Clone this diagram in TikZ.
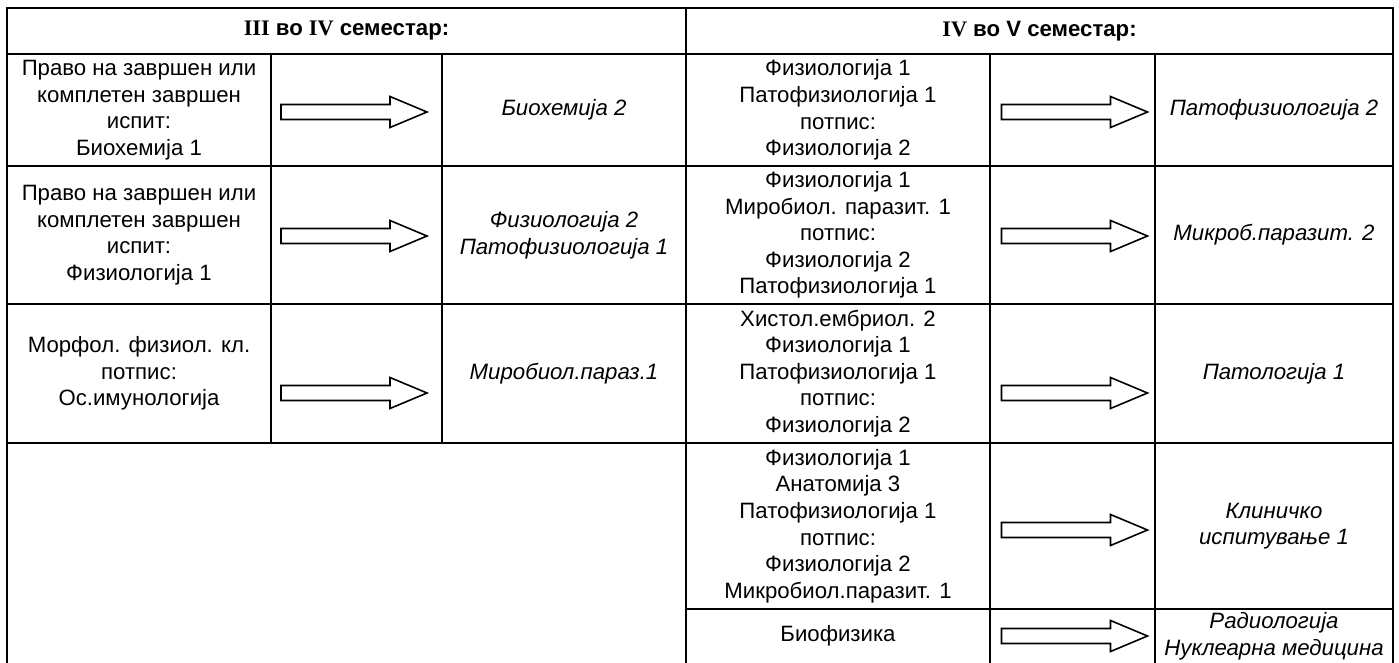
\documentclass[tikz,border=0pt]{standalone}
\usepackage{fontspec}
\setmainfont{Liberation Sans}
\newfontfamily\romfont{Liberation Serif}
\usepackage{tikz}

\begin{document}
\begin{tikzpicture}[x=1pt,y=-1pt]
	\tikzstyle{every node}+=[inner sep=0pt, align=center, font=\fontsize{22.2}{26.6}\selectfont]
	\tikzstyle{res}=[font=\fontsize{22.2}{26.6}\selectfont\itshape]
	\tikzstyle{rule}=[line width=2.4pt]
	\tikzset{fatarrow/.pic={
		\draw [line width=1.6pt, line join=miter] (-73,-7.5) -- (36,-7.5) -- (36,-15.5) -- (73,0) -- (36,15.5) -- (36,7.5) -- (-73,7.5) -- cycle;}}
	\useasboundingbox (0,0) rectangle (1399,663);
	% table
	\draw [rule] (7,663) -- (7,8) -- (1393,8) -- (1393,663);
	\draw [rule] (7,54) -- (1393,54);
	\draw [rule] (7,166) -- (1393,166);
	\draw [rule] (7,304) -- (1393,304);
	\draw [rule] (7,443) -- (1393,443);
	\draw [rule] (686,609) -- (1393,609);
	\draw [rule] (686,8) -- (686,663);
	\draw [rule] (271,54) -- (271,443);
	\draw [rule] (442,54) -- (442,443);
	\draw [rule] (990,54) -- (990,663);
	\draw [rule] (1155,54) -- (1155,663);
	% headers
	\node (hleft) at (346.5,31) {\bfseries{\romfont III} во {\romfont IV} семестар:};
	\node (hright) at (1039.5,31) {\bfseries{\romfont IV} во V семестар:};
	% III -> IV
	\node (l1) at (139,110) {Право на завршен или\\комплетен завршен\\испит:\\Биохемија 1};
	\pic (la1) at (354,112) {fatarrow};
	\node [res] (r1) at (564,110) {Биохемија 2};
	\node (l2) at (139,235) {Право на завршен или\\комплетен завршен\\испит:\\Физиологија 1};
	\pic (la2) at (354,236) {fatarrow};
	\node [res] (r2) at (564,235) {Физиологија 2\\Патофизиологија 1};
	\node (l3) at (139,373.5) {Морфол. физиол. кл.\\потпис:\\Ос.имунологија};
	\pic (la3) at (354,393) {fatarrow};
	\node [res] (r3) at (564,373.5) {Миробиол.параз.1};
	% IV -> V
	\node (m1) at (838,110) {Физиологија 1\\Патофизиологија 1\\потпис:\\Физиологија 2};
	\pic (ma1) at (1074.5,112) {fatarrow};
	\node [res] (s1) at (1274,110) {Патофизиологија 2};
	\node (m2) at (838,235) {Физиологија 1\\Миробиол. паразит. 1\\потпис:\\Физиологија 2\\Патофизиологија 1};
	\pic (ma2) at (1074.5,236) {fatarrow};
	\node [res] (s2) at (1274,235) {Микроб.паразит. 2};
	\node (m3) at (838,373.5) {Хистол.ембриол. 2\\Физиологија 1\\Патофизиологија 1\\потпис:\\Физиологија 2};
	\pic (ma3) at (1074.5,393) {fatarrow};
	\node [res] (s3) at (1274,373.5) {Патологија 1};
	\node (m4) at (838,526) {Физиологија 1\\Анатомија 3\\Патофизиологија 1\\потпис:\\Физиологија 2\\Микробиол.паразит. 1};
	\pic (ma4) at (1074.5,530) {fatarrow};
	\node [res] (s4) at (1274,526) {Клиничко\\испитување 1};
	\node (m5) at (838,636) {Биофизика};
	\pic (ma5) at (1074.5,636) {fatarrow};
	\node [res] (s5) at (1274,636) {Радиологија\\Нуклеарна медицина};
\end{tikzpicture}
\end{document}
